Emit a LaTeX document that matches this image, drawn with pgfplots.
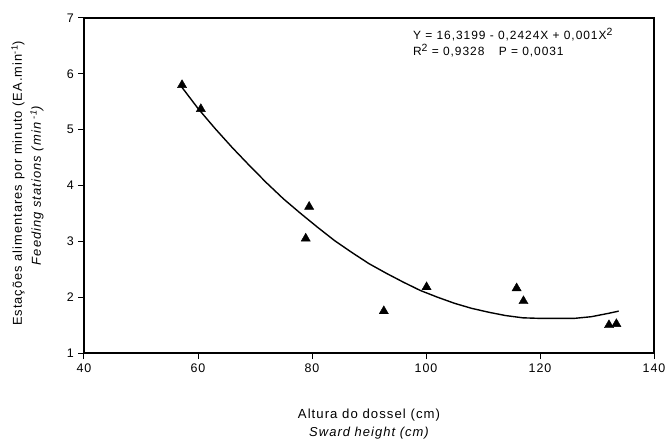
\documentclass[border=0pt]{standalone}
\usepackage{fontspec}
\setmainfont{Liberation Sans}[LetterSpace=8]
\usepackage{pgfplots}
\pgfplotsset{compat=1.18}
\begin{document}
\fontsize{12}{14}\selectfont
\begin{tikzpicture}
\begin{axis}[
  at={(0,0)}, anchor=south west,
  scale only axis, width=570bp, height=335bp,
  xmin=40, xmax=140, ymin=1, ymax=7,
  xtick={40,60,80,100,120,140}, ytick={1,2,3,4,5,6,7},
  tick align=outside, tick pos=left, major tick length=6bp,
  axis line style={line width=1.4bp},
  tick style={line width=1bp, black},
  /pgf/number format/assume math mode=true,
  ticklabel style={font=\fontsize{12.5}{14}\selectfont},
  xticklabel style={yshift=-1bp},
  clip=false,
]
\addplot[black, line width=1.4bp] coordinates {
 (57.1,5.77) (60,5.38) (63,5.02) (66,4.68) (69,4.36) (72,4.05) (75,3.76)
 (78,3.50) (81,3.25) (84,3.01) (87,2.80) (90,2.60) (93,2.43) (96,2.27)
 (99,2.12) (102,2.00) (105,1.89) (108,1.80) (111,1.73) (114,1.67)
 (117,1.63) (120,1.62) (123,1.62) (126,1.62) (129,1.65) (132,1.71) (133.8,1.75)
};
\addplot[only marks, mark=triangle*, mark size=5.3bp, black] coordinates {
 (57.2,5.80) (60.5,5.37) (79.5,3.62) (78.9,3.05) (92.6,1.75)
 (100.1,2.18) (115.9,2.16) (117.1,1.93) (132.1,1.50) (133.4,1.52)
};
\node[anchor=base west, font=\fontsize{12}{14}\selectfont] at (axis cs:97,6.61) {Y = 16,3199 - 0,2424X + 0,001X\raisebox{0.75ex}{\fontsize{10.5}{12}\selectfont 2}};
\node[anchor=base west, font=\fontsize{12}{14}\selectfont] at (axis cs:97,6.32) {R\raisebox{0.75ex}{\fontsize{10.5}{12}\selectfont 2} = 0,9328\hspace{1.2em}P = 0,0031};
\node[font=\fontsize{13.2}{15}\selectfont] at ([yshift=-62bp]axis description cs:0.5,0) {Altura do dossel (cm)};
\node[font=\fontsize{13}{15}\selectfont\itshape] at ([yshift=-80bp]axis description cs:0.5,0) {Sward height (cm)};
\node[rotate=90, font=\fontsize{12.9}{15}\selectfont] at ([xshift=-66bp, yshift=2bp]axis description cs:0,0.5) {Estações alimentares por minuto (EA.min\textsuperscript{-1})};
\node[rotate=90, font=\fontsize{13}{15}\selectfont\itshape] at ([xshift=-47bp]axis description cs:0,0.5) {Feeding stations (min\textsuperscript{ -1})};
\end{axis}
\pgfresetboundingbox
\path (-84bp,-87bp) rectangle (581bp,353bp);
\end{tikzpicture}
\end{document}
